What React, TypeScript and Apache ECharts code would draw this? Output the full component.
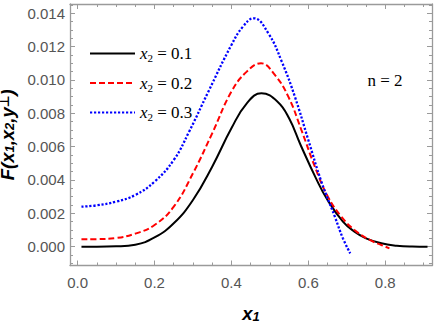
import React, { useEffect, useRef } from "react";
import * as echarts from "echarts";

// ---- data ----
const xBlack = [0.01, 0.05, 0.1, 0.15, 0.2, 0.25, 0.3, 0.35, 0.4, 0.44, 0.478, 0.52, 0.55, 0.58, 0.62, 0.65, 0.69, 0.72, 0.75, 0.79, 0.83, 0.87, 0.91];
const yBlack = [0, 0, 0.00002, 0.00012, 0.00055, 0.0014, 0.0028, 0.0048, 0.0071, 0.0086, 0.0092, 0.0087, 0.0077, 0.0061, 0.0041, 0.0028, 0.0015, 0.0009, 0.0005, 0.0002, 0.00006, 0.00001, 0];

const xRed = [0.01, 0.05, 0.1, 0.15, 0.2, 0.25, 0.3, 0.35, 0.4, 0.44, 0.477, 0.513, 0.548, 0.582, 0.617, 0.651, 0.686, 0.72, 0.76, 0.79, 0.811];
const yRed = [0.00044, 0.00045, 0.00052, 0.00078, 0.0013, 0.0024, 0.0044, 0.0068, 0.0093, 0.0105, 0.011, 0.0103, 0.009, 0.007, 0.0048, 0.003, 0.0018, 0.001, 0.0004, 0.0001, -0.0001];

const xBlue = [0.01, 0.05, 0.1, 0.15, 0.2, 0.25, 0.29, 0.34, 0.4, 0.43, 0.458, 0.496, 0.531, 0.565, 0.6, 0.634, 0.669, 0.69, 0.709];
const yBlue = [0.0024, 0.00248, 0.0027, 0.0031, 0.0039, 0.0052, 0.0069, 0.0093, 0.0121, 0.0132, 0.0137, 0.0128, 0.0111, 0.009, 0.0064, 0.0039, 0.0018, 0.0005, -0.0004];

const seriesNames = ["x2 = 0.1", "x2 = 0.2", "x2 = 0.3"];
const legendValues = ["0.1", "0.2", "0.3"];
const annotation = "n = 2";

const X_MIN = -0.0198;
const X_MAX = 0.9217;
const Y_MIN = -0.00113;
const Y_MAX = 0.014558;

const zip = (xs: number[], ys: number[]) => xs.map((x, i) => [x, ys[i]]);

export default function App() {
  const ref = useRef<HTMLDivElement>(null);
  useEffect(() => {
    const chart = echarts.init(ref.current!, null, { renderer: "svg" });
    const frame = "#9a9a9a";
    const tickStyle = { color: frame, width: 1 };
    const labelStyle = {
      fontSize: 15,
      color: "#555",
      fontFamily: "Liberation Sans",
    };
    const baseAxis = {
      type: "value",
      splitLine: { show: false },
      axisLine: { show: true, onZero: false, lineStyle: { color: frame, width: 1.3 } },
      axisTick: { show: true, inside: true, length: 5, lineStyle: tickStyle },
      minorTick: { show: true, splitNumber: 4, length: 3, lineStyle: tickStyle },
      minorSplitLine: { show: false },
    };
    const subRich = {
      m: { fontSize: 18.5, fontWeight: "bold", fontStyle: "italic", fontFamily: "Liberation Sans", color: "#000", lineHeight: 18 },
      s: { fontSize: 13, fontWeight: "bold", fontStyle: "italic", fontFamily: "Liberation Sans", color: "#000", lineHeight: 9, verticalAlign: "bottom" },
      p: { fontSize: 13, fontWeight: "bold", fontStyle: "italic", fontFamily: "DejaVu Sans", color: "#000", lineHeight: 10, verticalAlign: "top" },
    };
    const lineCommon = {
      type: "line",
      xAxisIndex: 0,
      yAxisIndex: 0,
      symbol: "none",
      showSymbol: false,
      smooth: 0.45,
    };
    chart.setOption({
      animation: false,
      grid: { left: 70, top: 4, width: 362, height: 261.5, containLabel: false, outerBoundsMode: "none" },
      xAxis: [
        {
          ...baseAxis,
          position: "bottom",
          min: X_MIN,
          max: X_MAX,
          splitNumber: 5,
          axisLabel: {
            ...labelStyle,
            margin: 9,
            showMinLabel: false,
            showMaxLabel: false,
            formatter: (v: number) => v.toFixed(1),
          },
          name: "{m|x}{s|1}",
          nameLocation: "middle",
          nameGap: 39,
          nameTextStyle: { rich: subRich },
        },
        {
          ...baseAxis,
          position: "top",
          min: X_MIN,
          max: X_MAX,
          splitNumber: 5,
          axisLabel: { show: false },
        },
      ],
      yAxis: [
        {
          ...baseAxis,
          position: "left",
          min: Y_MIN,
          max: Y_MAX,
          splitNumber: 7,
          axisLabel: {
            ...labelStyle,
            margin: 5,
            showMinLabel: false,
            showMaxLabel: false,
            formatter: (v: number) => (Math.abs(v) < 1e-9 ? 0 : v).toFixed(3),
          },
          name: "{m|F(x}{s|1}{m|,x}{s|2}{m|,y}{p|⊥}{m|)}",
          nameLocation: "middle",
          nameGap: 45,
          nameTextStyle: { rich: subRich },
        },
        {
          ...baseAxis,
          position: "right",
          min: Y_MIN,
          max: Y_MAX,
          splitNumber: 7,
          axisLabel: { show: false },
        },
      ],
      legend: {
        orient: "vertical",
        left: 84,
        top: 40,
        itemWidth: 45,
        itemHeight: 20,
        itemGap: 11,
        selectedMode: false,
        data: seriesNames,
        itemStyle: { opacity: 0 },
        formatter: (name: string) => {
          const i = seriesNames.indexOf(name);
          return `{i|x}{s|2}{n| = ${legendValues[i]}}`;
        },
        textStyle: {
          rich: {
            i: { fontSize: 17, fontStyle: "italic", fontFamily: "Liberation Serif", color: "#000", lineHeight: 20 },
            s: { fontSize: 11, fontFamily: "Liberation Serif", color: "#000", lineHeight: 10, verticalAlign: "bottom" },
            n: { fontSize: 17, fontFamily: "Liberation Serif", color: "#000", lineHeight: 20 },
          },
        },
      },
      graphic: [
        {
          type: "text",
          x: 385,
          y: 80,
          style: {
            text: annotation,
            fontSize: 17,
            fontFamily: "Liberation Serif",
            fill: "#000",
            align: "center",
            verticalAlign: "middle",
          },
        },
      ],
      series: [
        {
          ...lineCommon,
          name: seriesNames[0],
          data: zip(xBlack, yBlack),
          lineStyle: { color: "#000", width: 2, type: "solid" },
          itemStyle: { color: "#000" },
          z: 3,
        },
        {
          ...lineCommon,
          name: seriesNames[1],
          data: zip(xRed, yRed),
          lineStyle: { color: "#ff0000", width: 2, type: [6, 3] },
          itemStyle: { color: "#ff0000" },
          z: 4,
        },
        {
          ...lineCommon,
          name: seriesNames[2],
          data: zip(xBlue, yBlue),
          lineStyle: { color: "#0000ff", width: 2.3, type: [2.2, 1.8] },
          itemStyle: { color: "#0000ff" },
          z: 5,
        },
      ],
    });
    return () => chart.dispose();
  }, []);
  return (
    <div
      ref={ref}
      style={{ position: "fixed", left: 0, top: 0, width: 436, height: 327, background: "#fff" }}
    />
  );
}
